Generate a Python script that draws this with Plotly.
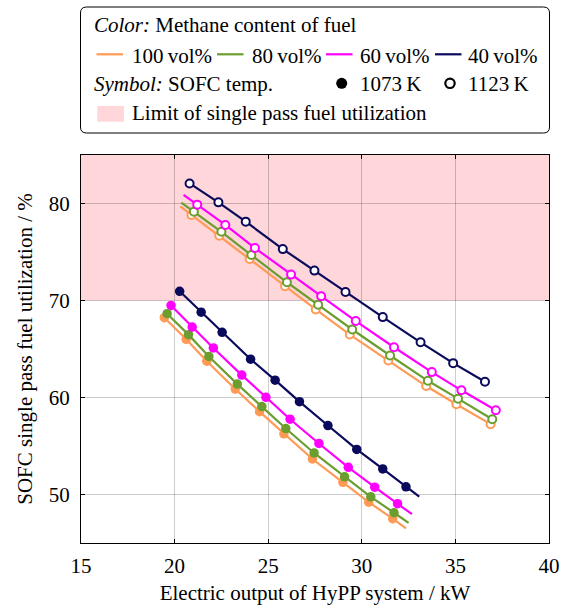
import plotly.graph_objects as go

# ---------------- data ----------------
methane_labels = ["100 vol%", "80 vol%", "60 vol%", "40 vol%"]
temp_labels = ["1073 K", "1123 K"]

# SOFC 1123 K (open symbols)
x_1123_100 = [20.90, 22.39, 24.01, 25.90, 27.54, 29.36, 31.42, 33.44, 35.05, 36.88]
y_1123_100 = [78.82, 76.67, 74.28, 71.47, 69.08, 66.49, 63.82, 61.18, 59.30, 57.25]
x_1123_80 = [21.03, 22.50, 24.10, 26.00, 27.67, 29.49, 31.51, 33.53, 35.14, 36.97]
y_1123_80 = [79.16, 77.08, 74.69, 71.88, 69.56, 67.01, 64.33, 61.72, 59.88, 57.76]
x_1123_60 = [21.21, 22.71, 24.29, 26.22, 27.83, 29.68, 31.72, 33.74, 35.32, 37.16]
y_1123_60 = [79.88, 77.79, 75.41, 72.67, 70.44, 67.88, 65.18, 62.62, 60.74, 58.69]
x_1123_40 = [20.80, 22.34, 23.80, 25.78, 27.47, 29.13, 31.12, 33.14, 34.88, 36.58]
y_1123_40 = [82.07, 80.12, 78.13, 75.30, 73.08, 70.87, 68.29, 65.69, 63.54, 61.62]

# SOFC 1073 K (filled symbols)
x_1073_100 = [19.45, 20.62, 21.72, 23.24, 24.54, 25.84, 27.36, 28.99, 30.37, 31.65]
y_1073_100 = [68.23, 66.00, 63.74, 60.87, 58.54, 56.26, 53.66, 51.26, 49.21, 47.51]
x_1073_80 = [19.60, 20.74, 21.83, 23.35, 24.66, 25.94, 27.45, 29.08, 30.48, 31.72]
y_1073_80 = [68.64, 66.48, 64.23, 61.38, 59.06, 56.80, 54.28, 51.82, 49.76, 48.12]
x_1073_60 = [19.81, 20.94, 22.07, 23.59, 24.88, 26.17, 27.71, 29.28, 30.69, 31.91]
y_1073_60 = [69.49, 67.26, 65.11, 62.31, 60.02, 57.76, 55.26, 52.80, 50.75, 49.05]
x_1073_40 = [20.27, 21.42, 22.54, 24.06, 25.37, 26.67, 28.19, 29.73, 31.12, 32.36]
y_1073_40 = [70.95, 68.80, 66.72, 63.95, 61.79, 59.57, 57.11, 54.65, 52.64, 50.79]

# curve ends that run past the symbols
x_1123_start = [20.30, 20.36, 20.48, None]
y_1123_start = [79.70, 80.10, 80.90, None]
x_1073_end = [32.36, 32.50, 32.68, 33.07]
y_1073_end = [46.50, 47.07, 47.97, 49.77]

limit_low = 70
limit_high = 85

x_ticks = [15, 20, 25, 30, 35, 40]
y_ticks = [50, 60, 70, 80]

# ---------------- styles ----------------
colors = ["#FF9A55", "#6B9E2E", "#FF00FF", "#0A0A5C"]
FONT = "Liberation Serif, Times New Roman, Times, Tinos, serif"
FS = 21
W, H = 563, 605
L, R, T, B = 81, 549, 155, 543

xs_1123 = [x_1123_100, x_1123_80, x_1123_60, x_1123_40]
ys_1123 = [y_1123_100, y_1123_80, y_1123_60, y_1123_40]
xs_1073 = [x_1073_100, x_1073_80, x_1073_60, x_1073_40]
ys_1073 = [y_1073_100, y_1073_80, y_1073_60, y_1073_40]

fig = go.Figure()

for i in range(4):
    c = colors[i]
    # 1123 K curve
    lx = ([x_1123_start[i]] if x_1123_start[i] is not None else []) + xs_1123[i]
    ly = ([y_1123_start[i]] if y_1123_start[i] is not None else []) + ys_1123[i]
    fig.add_trace(go.Scatter(x=lx, y=ly, mode="lines", line=dict(color=c, width=2.2),
                             showlegend=False, hoverinfo="skip"))
    fig.add_trace(go.Scatter(x=xs_1123[i], y=ys_1123[i], mode="markers",
                             marker=dict(symbol="circle", size=8, color="white",
                                         line=dict(color=c, width=2)),
                             name=methane_labels[i] + " " + temp_labels[1], showlegend=False))
    # 1073 K curve
    lx = xs_1073[i] + [x_1073_end[i]]
    ly = ys_1073[i] + [y_1073_end[i]]
    fig.add_trace(go.Scatter(x=lx, y=ly, mode="lines", line=dict(color=c, width=2.2),
                             showlegend=False, hoverinfo="skip"))
    fig.add_trace(go.Scatter(x=xs_1073[i], y=ys_1073[i], mode="markers",
                             marker=dict(symbol="circle", size=9.5, color=c, line=dict(width=0)),
                             name=methane_labels[i] + " " + temp_labels[0], showlegend=False))

# limit region
fig.add_shape(type="rect", xref="x", yref="y", x0=x_ticks[0], x1=x_ticks[-1],
              y0=limit_low, y1=limit_high, fillcolor="#FFD6D9", line=dict(width=0), layer="below")


# ---------------- custom legend box ----------------
def px(xp):
    return (xp - L) / (R - L)


def py(yp):
    return (B - yp) / (B - T)


shapes = []
# rounded box
bx0, bx1, by0, by1, r = 80.5, 549.5, 7.0, 133.0, 6.0
rx, ry = r / (R - L), r / (B - T)
X0, X1, Y0, Y1 = px(bx0), px(bx1), py(by1), py(by0)
path = (f"M {X0+rx},{Y0} L {X1-rx},{Y0} Q {X1},{Y0} {X1},{Y0+ry} "
        f"L {X1},{Y1-ry} Q {X1},{Y1} {X1-rx},{Y1} L {X0+rx},{Y1} Q {X0},{Y1} {X0},{Y1-ry} "
        f"L {X0},{Y0+ry} Q {X0},{Y0} {X0+rx},{Y0} Z")
shapes.append(dict(type="path", xref="paper", yref="paper", path=path,
                   line=dict(color="black", width=1), fillcolor="white"))

ann = []


def text(x, y, s):
    ann.append(dict(x=px(x), y=py(y), xref="paper", yref="paper", text=s, showarrow=False,
                    xanchor="left", yanchor="middle", font=dict(family=FONT, size=FS, color="black")))


text(92, 24.5, "<i>Color:</i> Methane content of fuel")
line_x = [96.5, 217, 326, 435]
text_x = [129.5, 249.5, 358, 466]
for i in range(4):
    shapes.append(dict(type="line", xref="paper", yref="paper", x0=px(line_x[i]), x1=px(line_x[i] + 26.5),
                       y0=py(54.3), y1=py(54.3), line=dict(color=colors[i], width=2.2)))
    text(text_x[i], 55.5, methane_labels[i].replace(" ", "\u2009"))

text(92, 83.5, "<i>Symbol:</i> SOFC temp.")
cr = 5.5
shapes.append(dict(type="circle", xref="paper", yref="paper", x0=px(341.7 - cr), x1=px(341.7 + cr),
                   y0=py(83.3 + cr), y1=py(83.3 - cr), fillcolor="black", line=dict(color="black", width=0)))
text(358, 83.5, temp_labels[0].replace(" ", "\u2009"))
cr2 = 4.7
shapes.append(dict(type="circle", xref="paper", yref="paper", x0=px(450 - cr2), x1=px(450 + cr2),
                   y0=py(83.3 + cr2), y1=py(83.3 - cr2), fillcolor="white", line=dict(color="black", width=2.2)))
text(466, 83.5, temp_labels[1].replace(" ", "\u2009"))

shapes.append(dict(type="rect", xref="paper", yref="paper", x0=px(97.3), x1=px(124),
                   y0=py(121.7), y1=py(106), fillcolor="#FFD6D9", line=dict(width=0)))
text(129.5, 113, "Limit of single pass fuel utilization")

for s in shapes:
    fig.add_shape(**s)

grid = "rgba(0,0,0,0.2)"
fig.update_layout(
    width=W, height=H,
    margin=dict(l=L, r=W - R, t=T, b=H - B, autoexpand=False),
    paper_bgcolor="white", plot_bgcolor="white",
    font=dict(family=FONT, size=FS, color="black"),
    annotations=ann,
    showlegend=False,
    xaxis=dict(range=[x_ticks[0], x_ticks[-1]], tickvals=x_ticks, showgrid=True, gridcolor=grid, gridwidth=1,
               showline=True, linecolor="black", linewidth=1, mirror="ticks", ticks="inside", ticklen=4,
               tickcolor="black", zeroline=False, ticklabelstandoff=4,
               title=dict(text="Electric output of HyPP system / kW", font=dict(family=FONT, size=FS), standoff=8),
               automargin=False),
    yaxis=dict(range=[45, limit_high], tickvals=y_ticks, showgrid=True, gridcolor=grid, gridwidth=1,
               showline=True, linecolor="black", linewidth=1, mirror="ticks", ticks="inside", ticklen=4,
               tickcolor="black", zeroline=False, ticklabelstandoff=6,
               title=dict(text="SOFC single pass fuel utilization / %", font=dict(family=FONT, size=FS), standoff=10),
               automargin=False),
)

fig.write_html("out.html", config={"displayModeBar": False},
               post_script="document.body.style.margin='0px';")
